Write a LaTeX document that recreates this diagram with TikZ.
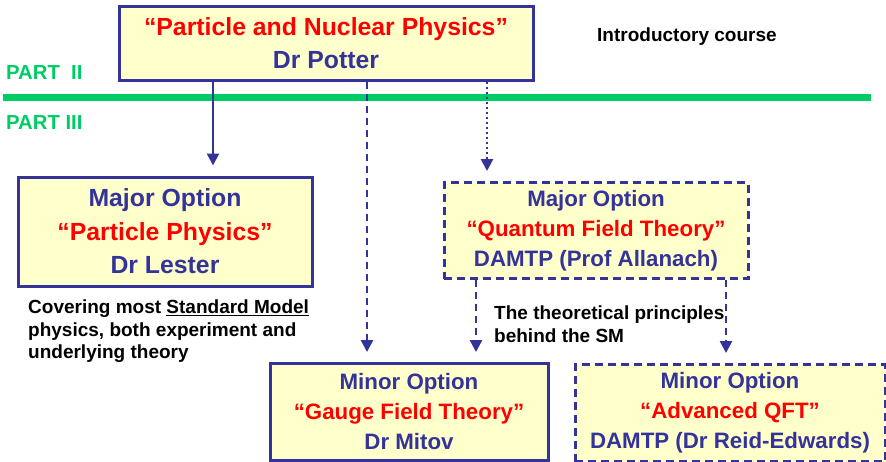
\documentclass[tikz,border=0pt]{standalone}
\usepackage{fontspec}
\setmainfont{Liberation Sans}
\usetikzlibrary{arrows.meta}
\definecolor{dblue}{RGB}{51,51,153}
\definecolor{lyellow}{RGB}{255,255,204}
\definecolor{pgreen}{RGB}{0,204,102}
\definecolor{pred}{RGB}{255,0,0}
\begin{document}
\begin{tikzpicture}[x=1pt,y=-1pt,
  box/.style={draw=dblue, line width=3pt, fill=lyellow, align=center, inner sep=0pt,
    font=\bfseries\fontsize{24.8}{33.5}\selectfont, text=dblue},
  dbox/.style={box, dash pattern=on 8pt off 5pt, font=\bfseries\fontsize{22.3}{30}\selectfont},
  sbox/.style={box, font=\bfseries\fontsize{22.3}{30}\selectfont},
  conn/.style={draw=dblue, line width=2.6pt, shorten >=10pt, -{Triangle[width=12pt,length=12pt]}},
  dconn/.style={conn, dash pattern=on 7pt off 5pt},
  tconn/.style={conn, dash pattern=on 2.5pt off 2.5pt},
  note/.style={font=\bfseries\fontsize{19}{22.5}\selectfont, text=black, inner sep=0pt, align=left},
  part/.style={font=\bfseries\fontsize{20.3}{24}\selectfont, text=pgreen, inner sep=0pt, anchor=west}]
\useasboundingbox (0,0) rectangle (886,461);
% divider
\coordinate (gl) at (3,97.5);
\coordinate (gr) at (871,97.5);
\draw[pgreen, line width=6.5pt] (gl) -- (gr);
\node[part] (p2) at (6,73) {PART\ \ II};
\node[part] (p3) at (6,123) {PART III};
% boxes
\node[box, minimum width=414pt, minimum height=74pt] (top) at (326,43)
  {\textcolor{pred}{“Particle and Nuclear Physics”}\\Dr Potter};
\node[box, minimum width=294pt, minimum height=109pt] (left) at (165,231.5)
  {Major Option\\\textcolor{pred}{“Particle Physics”}\\Dr Lester};
\node[dbox, minimum width=304pt, minimum height=96pt] (qft) at (596,230.5)
  {Major Option\\\textcolor{pred}{“Quantum Field Theory”}\\DAMTP (Prof Allanach)};
\node[sbox, minimum width=278pt, minimum height=97pt] (gauge) at (409,412)
  {Minor Option\\\textcolor{pred}{“Gauge Field Theory”}\\Dr Mitov};
\node[dbox, minimum width=310pt, minimum height=97pt] (adv) at (730,413)
  {Minor Option\\\textcolor{pred}{“Advanced QFT”}\\DAMTP (Dr Reid-Edwards)};
% notes
\node[note, anchor=west] (intro) at (597,37) {Introductory course};
\node[note, anchor=north west] (cover) at (28,300)
  {Covering most \underline{Standard Model}\\physics, both experiment and\\underlying theory};
\node[note, anchor=north west] (theo) at (494,306)
  {The theoretical principles\\behind the SM};
% connectors
\coordinate (xa) at (213,0);
\coordinate (xb) at (367,0);
\coordinate (xc) at (487,0);
\coordinate (xd) at (476,0);
\coordinate (xe) at (726,0);
\draw[conn] (top.south -| xa) -- (left.north -| xa);
\draw[dconn] (top.south -| xb) -- (gauge.north -| xb);
\draw[tconn] (top.south -| xc) -- (qft.north -| xc);
\draw[dconn] (qft.south -| xd) -- (gauge.north -| xd);
\draw[dconn] (qft.south -| xe) -- (adv.north -| xe);
\end{tikzpicture}
\end{document}
